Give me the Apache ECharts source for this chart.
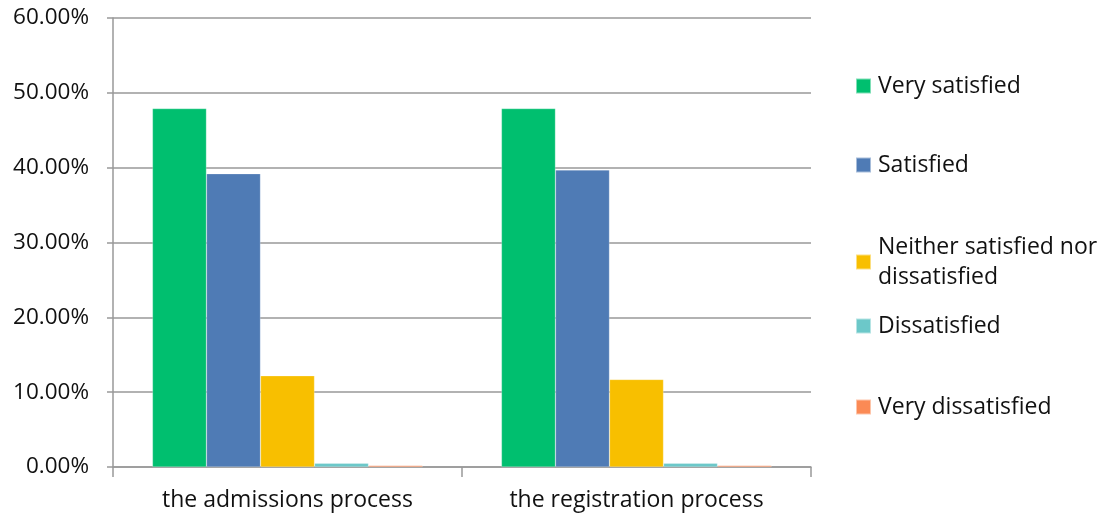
<!DOCTYPE html>
<html><head><meta charset="utf-8">
<script src="https://cdn.jsdelivr.net/npm/echarts@6/dist/echarts.min.js"></script>
<style>html,body{margin:0;padding:0;background:#fff}#c{width:1101px;height:519px}</style>
</head><body><div id="c"></div>
<script>
const categories = ['the admissions process', 'the registration process'];
const seriesNames = ['Very satisfied', 'Satisfied', 'Neither satisfied nor\ndissatisfied', 'Dissatisfied', 'Very dissatisfied'];
const verySatisfied = [47.9, 47.9];
const satisfied = [39.2, 39.7];
const neither = [12.2, 11.7];
const dissatisfied = [0.5, 0.5];
const veryDissatisfied = [0.2, 0.2];
const yTicks = [0, 10, 20, 30, 40, 50, 60];
const colors = ['#00bf6f', '#4f7bb5', '#f8bf00', '#6cc8c9', '#fb8a55'];
const values = [verySatisfied, satisfied, neither, dissatisfied, veryDissatisfied];
const legendTops = [71, 150, 232, 311, 392];
const font = '"Open Sans", "Noto Sans", sans-serif';

const chart = echarts.init(document.getElementById('c'));
chart.setOption({
  animation: false,
  grid: {left: 113, right: 290, top: 18, bottom: 52},
  xAxis: {
    type: 'category', data: categories,
    axisLine: {lineStyle: {color: '#999', width: 1.5}},
    axisTick: {show: true, length: 10, lineStyle: {color: '#999', width: 1.5}},
    axisLabel: {color: '#111', fontSize: 23, fontFamily: font, margin: 22}
  },
  yAxis: {
    type: 'value', min: yTicks[0], max: yTicks[yTicks.length - 1], interval: 10,
    axisLine: {show: true, lineStyle: {color: '#999', width: 1.5}},
    axisTick: {show: true, length: 6, lineStyle: {color: '#999', width: 1.5}},
    splitLine: {lineStyle: {color: '#999', width: 1.5}},
    axisLabel: {color: '#111', fontSize: 22.5, fontFamily: font, margin: 24,
      formatter: v => v.toFixed(2) + '%'}
  },
  legend: seriesNames.map((n, i) => ({
    data: [n], left: 855, top: legendTops[i], orient: 'vertical', padding: 0,
    itemWidth: 15, itemHeight: 15, itemGap: 0, icon: 'rect',
    textStyle: {color: '#111', fontSize: 23, fontFamily: font, lineHeight: 30, padding: [0, 0, 0, 2]}
  })),
  series: seriesNames.map((n, i) => ({
    name: n, type: 'bar', data: values[i],
    barGap: '0%', barCategoryGap: '22.6%',
    itemStyle: {color: colors[i], borderColor: 'rgba(255,255,255,0.5)', borderWidth: 0.5}
  }))
});
</script></body></html>
